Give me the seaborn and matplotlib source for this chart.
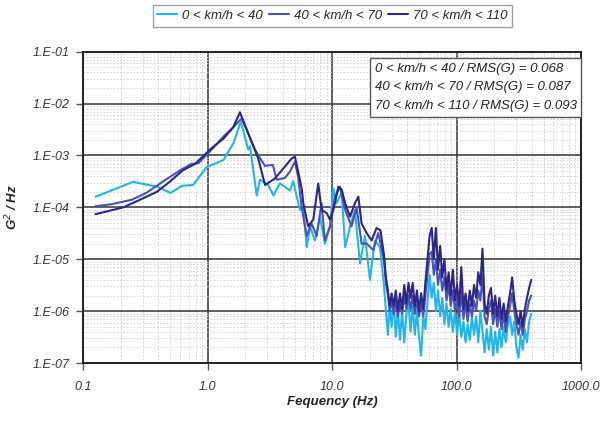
import numpy as np
import pandas as pd
import seaborn as sns
import matplotlib
matplotlib.use("Agg")
import matplotlib.pyplot as plt
from matplotlib.ticker import LogLocator, FuncFormatter, NullFormatter

# series labels and colours
labels = ["0 < km/h < 40", "40 < km/h < 70", "70 < km/h < 110"]
colors = ["#22b4ea", "#4a52b6", "#2c2687"]
rms_values = [0.068, 0.087, 0.093]

# ---- low / mid frequency part (read per series) ----
# 0 < km/h < 40
freq_low = [0.125, 0.25, 0.39, 0.50, 0.62, 0.76, 0.98, 1.33, 1.60, 1.84,
            2.11, 2.18, 2.47, 2.62, 3.06, 3.36, 3.80, 4.57, 4.86, 5.18,
            5.50, 5.85, 6.23, 6.62, 7.26, 7.96, 8.73, 9.59, 10.2, 10.8,
            11.9, 12.7, 13.9, 15.2, 16.7, 18.3, 20.1, 22.0, 24.2]
psd_low = [1.6e-4, 3.1e-4, 2.5e-4, 1.9e-4, 2.6e-4, 2.7e-4, 6.0e-4, 8.1e-4, 1.7e-3, 4.5e-3,
           1.3e-3, 1.5e-3, 1.7e-4, 3.4e-4, 2.7e-4, 1.7e-4, 2.9e-4, 2.1e-4, 3.2e-4, 1.6e-4,
           8.9e-5, 1.0e-4, 1.7e-5, 4.3e-5, 2.3e-5, 6.6e-5, 2.0e-5, 4.3e-5, 2.3e-4, 1.2e-4,
           1.9e-4, 1.7e-5, 4.3e-5, 8.9e-5, 8.3e-6, 2.8e-5, 4.0e-6, 2.3e-5, 1.7e-5]

# 40 < km/h < 70
freq_mid = [0.125, 0.168, 0.244, 0.32, 0.44, 0.60, 0.74, 0.84, 1.04, 1.33,
            1.60, 1.87, 2.39, 2.62, 2.88, 3.33, 3.57, 4.17, 4.57, 5.01,
            5.30, 5.50, 5.68, 6.23, 6.82, 7.49, 8.2, 8.73, 9.59, 10.5,
            11.5, 12.7, 14.3, 15.7, 17.2, 18.9, 21.4, 23.4]
psd_mid = [1.05e-4, 1.15e-4, 1.4e-4, 1.9e-4, 3.2e-4, 5.2e-4, 6.9e-4, 7.1e-4, 1.2e-3, 2.3e-3,
           3.5e-3, 5.2e-3, 1.3e-3, 8.9e-4, 6.3e-4, 6.6e-4, 3.4e-4, 3.7e-4, 4.9e-4, 7.6e-4,
           4.0e-4, 1.9e-4, 1.0e-4, 2.8e-5, 4.9e-5, 2.8e-5, 1.2e-4, 2.3e-5, 4.3e-5, 1.6e-4,
           2.5e-4, 8.9e-5, 4.3e-5, 1.0e-4, 2.0e-5, 2.0e-5, 1.5e-5, 3.2e-5]

# 70 < km/h < 110
freq_high = [0.125, 0.209, 0.284, 0.39, 0.50, 0.63, 0.79, 1.04, 1.33, 1.60,
             1.81, 2.54, 2.88, 3.46, 4.71, 5.01, 5.68, 5.85, 6.4, 7.04,
             7.71, 8.2, 9.0, 9.59, 10.2, 11.2, 11.9, 12.7, 13.9, 15.2,
             16.2, 17.2, 18.9, 20.7, 22.7, 24.4]
psd_high = [7.4e-5, 1.0e-4, 1.4e-4, 2.0e-4, 3.2e-4, 5.2e-4, 6.9e-4, 1.3e-3, 2.1e-3, 3.5e-3,
            6.8e-3, 8.7e-4, 2.7e-4, 3.6e-4, 8.7e-4, 9.5e-4, 2.3e-4, 1.2e-4, 4.3e-5, 5.8e-5,
            2.9e-4, 8.9e-5, 7.8e-5, 5.8e-5, 8.9e-5, 2.5e-4, 2.2e-4, 1.2e-4, 6.6e-5, 1.2e-4,
            1.6e-4, 4.9e-5, 3.2e-5, 2.3e-5, 4.0e-5, 3.6e-5]

# ---- high frequency part (shared frequency bins) ----
freq_hf = [26, 27, 28, 29, 30, 31.2, 32.4, 33.7, 35, 36.4,
           37.9, 39.4, 41, 42.6, 44.3, 46.1, 47.9, 49.8, 51.8, 53.9,
           56, 58.3, 60.6, 63, 65.5, 68.1, 70.8, 73.7, 76.6, 79.7,
           82.9, 86.2, 89.6, 93.2, 96.9, 100.8, 104.8, 109, 113.4, 117.9,
           122.6, 127.5, 132.6, 137.9, 143.4, 149.2, 155.1, 161.3, 167.8, 174.5,
           181.5, 188.7, 196.3, 204.1, 212.3, 220.8, 229.6, 238.8, 248.3, 258.3,
           268.6, 279.3, 290.5, 302.1, 314.2, 326.8, 339.8, 353.4, 367.6, 382.3,
           397.6]
psd_low_hf = [3.2e-6, 1.0e-6, 3.5e-7, 1.4e-6, 5.0e-7, 1.6e-6, 3.2e-7, 1.1e-6, 2.8e-7, 1.0e-6,
              2.5e-7, 8.9e-7, 1.4e-6, 4.0e-7, 1.26e-6, 3.5e-7, 1.0e-6, 3.2e-7, 1.4e-7, 7.9e-7,
              4.5e-7, 1.6e-6, 5.0e-6, 1.8e-6, 3.5e-6, 1.0e-6, 2.5e-6, 7.9e-7, 1.8e-6, 5.6e-7,
              1.4e-6, 5.0e-7, 1.1e-6, 4.0e-7, 1.0e-6, 3.5e-7, 8.9e-7, 3.2e-7, 6.3e-7, 2.5e-7,
              5.6e-7, 2.8e-7, 7.9e-7, 3.5e-7, 7.9e-7, 2.5e-7, 1.0e-6, 4.0e-7, 1.6e-7, 4.5e-7,
              1.8e-7, 5.0e-7, 1.4e-7, 4.0e-7, 1.6e-7, 4.5e-7, 2.0e-7, 5.0e-7, 2.5e-7, 5.6e-7,
              7.9e-7, 3.5e-7, 6.3e-7, 2.0e-7, 1.26e-7, 3.5e-7, 1.8e-7, 4.5e-7, 2.5e-7, 6.3e-7,
              8.9e-7]
psd_mid_hf = [1.0e-5, 3.5e-6, 2.0e-6, 1.0e-6, 1.6e-6, 8.9e-7, 1.6e-6, 7.9e-7, 1.4e-6, 8.9e-7,
              2.0e-6, 1.1e-6, 2.0e-6, 1.1e-6, 2.0e-6, 8.9e-7, 1.6e-6, 7.9e-7, 1.4e-6, 7.9e-7,
              2.0e-6, 5.0e-6, 1.26e-5, 1.4e-5, 5.0e-6, 1.0e-5, 3.2e-6, 6.3e-6, 2.5e-6, 4.5e-6,
              1.6e-6, 3.2e-6, 1.26e-6, 2.5e-6, 1.0e-6, 1.8e-6, 7.9e-7, 2.5e-6, 7.1e-7, 1.4e-6,
              6.3e-7, 1.4e-6, 7.9e-7, 1.6e-6, 1.0e-6, 2.5e-6, 1.6e-6, 5.0e-6, 7.9e-7, 5.6e-7,
              1.1e-6, 1.6e-6, 5.6e-7, 1.1e-6, 5.0e-7, 1.0e-6, 4.5e-7, 8.9e-7, 4.0e-7, 7.9e-7,
              1.26e-6, 2.2e-6, 1.0e-6, 5.6e-7, 3.5e-7, 6.3e-7, 3.5e-7, 7.1e-7, 1.0e-6, 1.6e-6,
              2.0e-6]
psd_high_hf = [1.26e-5, 4.5e-6, 2.5e-6, 1.26e-6, 2.2e-6, 1.26e-6, 2.5e-6, 1.0e-6, 2.2e-6, 1.1e-6,
               3.2e-6, 1.4e-6, 3.5e-6, 1.8e-6, 3.5e-6, 1.26e-6, 2.5e-6, 1.0e-6, 2.2e-6, 1.1e-6,
               3.5e-6, 1.0e-5, 2.8e-5, 4.0e-5, 1.0e-5, 4.0e-5, 6.3e-6, 1.8e-5, 4.5e-6, 1.0e-5,
               2.5e-6, 5.6e-6, 2.0e-6, 6.3e-6, 1.6e-6, 3.2e-6, 1.26e-6, 7.1e-6, 1.1e-6, 2.2e-6,
               1.0e-6, 2.5e-6, 1.26e-6, 3.2e-6, 1.8e-6, 5.6e-6, 3.2e-6, 1.6e-5, 1.4e-6, 8.9e-7,
               2.0e-6, 2.8e-6, 8.9e-7, 2.0e-6, 7.9e-7, 1.8e-6, 7.1e-7, 1.4e-6, 6.3e-7, 1.26e-6,
               2.2e-6, 4.5e-6, 1.6e-6, 8.9e-7, 5.6e-7, 1.0e-6, 5.0e-7, 1.1e-6, 1.8e-6, 2.8e-6,
               4.0e-6]

df = pd.concat([
    pd.DataFrame({"freq": freq_low + freq_hf, "psd": psd_low + psd_low_hf, "speed": labels[0]}),
    pd.DataFrame({"freq": freq_mid + freq_hf, "psd": psd_mid + psd_mid_hf, "speed": labels[1]}),
    pd.DataFrame({"freq": freq_high + freq_hf, "psd": psd_high + psd_high_hf, "speed": labels[2]}),
])

sns.set_style("white")
plt.rcParams["font.family"] = ["Liberation Sans", "DejaVu Sans"]
plt.rcParams["font.style"] = "italic"

fig = plt.figure(figsize=(6.02, 4.23), dpi=100)
ax = fig.add_axes([0.1387, 0.1418, 0.8265, 0.736])

sns.lineplot(data=df, x="freq", y="psd", hue="speed", hue_order=labels,
             palette=dict(zip(labels, colors)), estimator=None, linewidth=1.5,
             ax=ax)

ax.set_xscale("log")
ax.set_yscale("log")
ax.set_xlim(0.1, 1000)
ax.set_ylim(1e-7, 1e-1)

ax.xaxis.set_major_locator(LogLocator(base=10, numticks=10))
ax.yaxis.set_major_locator(LogLocator(base=10, numticks=10))
ax.xaxis.set_minor_locator(LogLocator(base=10, subs=np.arange(2, 10), numticks=100))
ax.yaxis.set_minor_locator(LogLocator(base=10, subs=np.arange(2, 10), numticks=100))
ax.xaxis.set_minor_formatter(NullFormatter())
ax.yaxis.set_minor_formatter(NullFormatter())
ax.xaxis.set_major_formatter(FuncFormatter(lambda v, p: f"{v:.1f}"))
ax.yaxis.set_major_formatter(FuncFormatter(lambda v, p: f"1.E{int(round(np.log10(v))):03d}"))

ax.grid(which="major", color="#333333", linewidth=1.1, linestyle="-")
ax.grid(which="minor", color="#cfcfcf", linewidth=0.6, linestyle=(0, (2, 2)))
ax.set_axisbelow(True)

ax.tick_params(which="major", direction="out", length=5, width=1, color="#555555",
               labelsize=9, labelcolor="#333333", bottom=True, left=True)
ax.tick_params(which="minor", length=0)
for lab in ax.get_xticklabels() + ax.get_yticklabels():
    lab.set_fontstyle("italic")
ax.tick_params(axis="x", pad=8)
ax.tick_params(axis="y", pad=5)

for sp in ax.spines.values():
    sp.set_color("#222222")
    sp.set_linewidth(1.4)

ax.set_xlabel("Fequency (Hz)", fontsize=9.5, fontweight="bold", style="italic")
ax.set_ylabel("G$^2$ / Hz", fontsize=9.5, fontweight="bold", style="italic")
ax.xaxis.set_label_coords(0.5, -0.105)
ax.yaxis.set_label_coords(-0.128, 0.5)

# RMS box
rms_text = "\n".join(f"{lab} / RMS(G) = {r:.3f}" for lab, r in zip(labels, rms_values))
ax.text(0.585, 0.965, rms_text, transform=ax.transAxes, fontsize=9.5, style="italic",
        va="top", ha="left", linespacing=1.75, color="#222222",
        bbox=dict(boxstyle="square,pad=0.35", facecolor="white", edgecolor="#555555", linewidth=1))

sns.move_legend(ax, "center", bbox_to_anchor=(0.5, 1.115), ncol=3, title=None,
                frameon=True, fontsize=9.5, handlelength=1.5, handletextpad=0.35,
                columnspacing=0.5, borderpad=0.35, fancybox=False, edgecolor="#888888")
leg = ax.get_legend()
for t in leg.get_texts():
    t.set_fontstyle("italic")
leg.get_frame().set_linewidth(1.0)

fig.savefig("out.png", dpi=100)
